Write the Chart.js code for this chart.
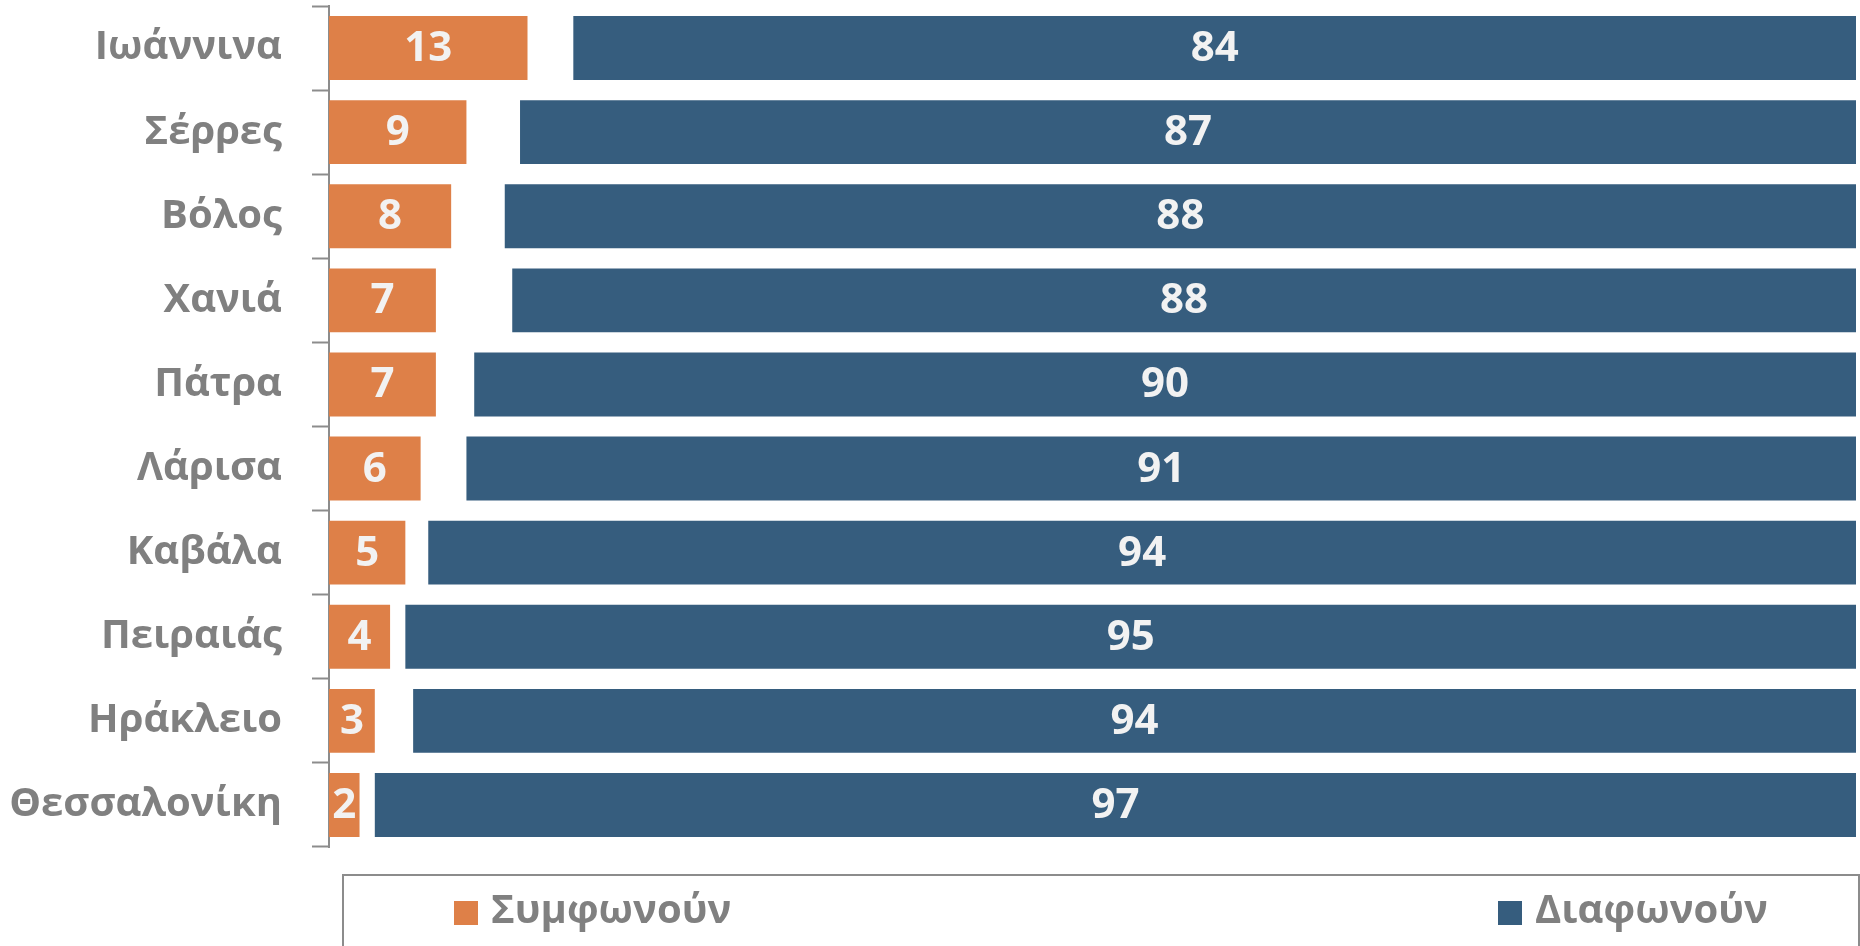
<!DOCTYPE html>
<html lang="el">
<head>
<meta charset="utf-8">
<title>Συμφωνούν / Διαφωνούν ανά πόλη</title>
<script src="https://cdn.jsdelivr.net/npm/chart.js@4.4.0/dist/chart.umd.min.js"></script>
<style>
  html, body { margin: 0; padding: 0; background: #fff; }
  #wrap { width: 1860px; height: 946px; position: relative; overflow: hidden; }
</style>
</head>
<body>
<div id="wrap"><canvas id="chart"></canvas></div>
<script>
// Values (percent). The middle series is the blank gap.
const cities    = ['Ιωάννινα', 'Σέρρες', 'Βόλος', 'Χανιά', 'Πάτρα', 'Λάρισα', 'Καβάλα', 'Πειραιάς', 'Ηράκλειο', 'Θεσσαλονίκη'];
const agree     = [13, 9, 8, 7, 7, 6, 5, 4, 3, 2];
const noAnswer  = [3, 3.51, 3.51, 5, 2.51, 3, 1.5, 1, 2.51, 1];
const disagree  = [84, 87.49, 88.49, 88, 90.49, 91, 93.5, 95, 94.49, 97];
const seriesNames = ['Συμφωνούν', 'Δεν απαντούν', 'Διαφωνούν'];

(function () {
  'use strict';

  const FONT = '"Open Sans", "Noto Sans", sans-serif';
  const GREY = '#808080';
  const COLORS = { agree: '#DE8048', disagree: '#365D7E' };

  // white numbers in the middle of each visible bar
  const valueLabels = {
    id: 'valueLabels',
    afterDatasetsDraw(chart) {
      const ctx = chart.ctx;
      ctx.save();
      ctx.font = 'bold 42px ' + FONT;
      ctx.fillStyle = '#f2f2f2';
      ctx.textAlign = 'center';
      ctx.textBaseline = 'middle';
      chart.data.datasets.forEach((ds, i) => {
        if (!ds.showValues) return;
        chart.getDatasetMeta(i).data.forEach((bar, j) => {
          const p = bar.getProps(['x', 'y', 'base'], true);
          ctx.fillText(String(Math.round(ds.data[j])), (p.x + p.base) / 2, p.y + 1);
        });
      });
      ctx.restore();
    },
  };

  // boxed legend at the bottom, spread like the original
  const boxLegend = {
    id: 'boxLegend',
    afterDraw(chart, args, opts) {
      const ctx = chart.ctx;
      ctx.save();
      ctx.strokeStyle = '#8c8c8c';
      ctx.lineWidth = 2;
      ctx.strokeRect(opts.box.x, opts.box.y, opts.box.w, opts.box.h);
      ctx.font = 'bold 40px ' + FONT;
      ctx.textBaseline = 'middle';
      ctx.textAlign = 'left';
      const shown = chart.data.datasets.filter((ds) => ds.inLegend);
      shown.forEach((ds, k) => {
        const x = opts.itemX[k];
        ctx.fillStyle = ds.backgroundColor;
        ctx.fillRect(x, opts.itemY - 12, 24, 24);
        ctx.fillStyle = GREY;
        ctx.fillText(ds.label, x + 37, opts.itemY - 1);
      });
      ctx.restore();
    },
  };

  function init() {
    new Chart(document.getElementById('chart').getContext('2d'), {
      type: 'bar',
      data: {
        labels: cities,
        datasets: [
          { label: seriesNames[0], data: agree, backgroundColor: COLORS.agree, showValues: true, inLegend: true },
          { label: seriesNames[1], data: noAnswer, backgroundColor: 'rgba(0,0,0,0)' },
          { label: seriesNames[2], data: disagree, backgroundColor: COLORS.disagree, showValues: true, inLegend: true },
        ],
      },
      options: {
        indexAxis: 'y',
        responsive: true,
        maintainAspectRatio: false,
        animation: false,
        layout: { padding: { top: 6, right: 4, bottom: 99, left: 0 } },
        datasets: { bar: { barPercentage: 0.76, categoryPercentage: 1, borderWidth: 0 } },
        plugins: {
          legend: { display: false },
          tooltip: { enabled: false },
          boxLegend: { box: { x: 343, y: 875, w: 1516, h: 120 }, itemX: [454, 1498], itemY: 913 },
        },
        scales: {
          x: { stacked: true, min: 0, max: 100, display: false },
          y: {
            stacked: true,
            afterFit: (scale) => {
              scale.width = 329;
              scale.paddingTop = 0;
              scale.paddingBottom = 0;
            },
            grid: { drawOnChartArea: false, drawTicks: true, tickLength: 17, tickWidth: 2, tickColor: '#8c8c8c', offset: true },
            border: { display: true, color: '#8c8c8c', width: 2 },
            ticks: { color: GREY, padding: 30, font: { family: FONT, size: 40, weight: 'bold' } },
          },
        },
      },
      plugins: [valueLabels, boxLegend],
    });
  }

  if (document.fonts && document.fonts.load) {
    document.fonts.load('bold 42px "Open Sans"').then(init, init);
  } else init();
})();
</script>
</body>
</html>
